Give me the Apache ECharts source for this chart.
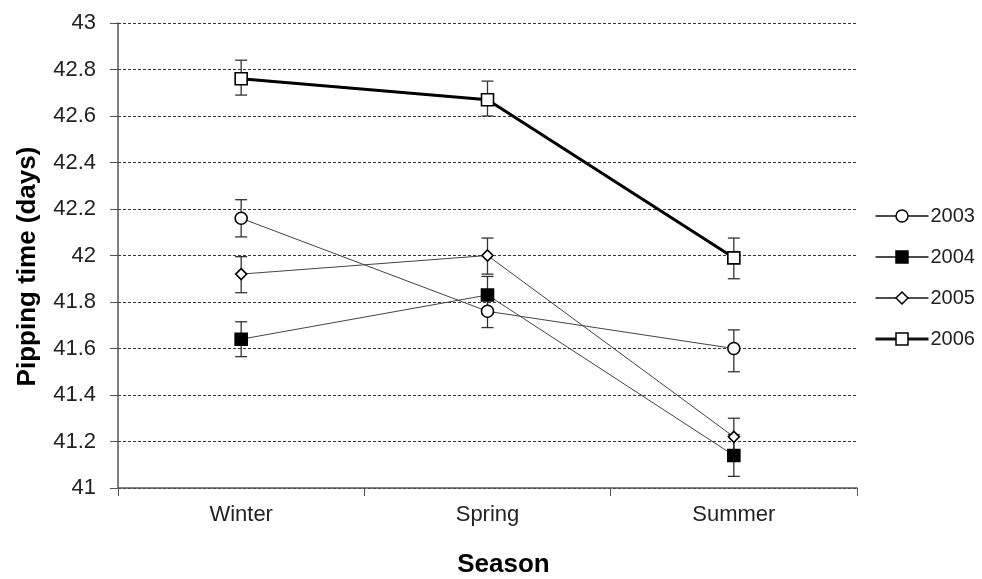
<!DOCTYPE html>
<html><head><meta charset="utf-8">
<script src="https://cdn.jsdelivr.net/npm/echarts@6/dist/echarts.min.js"></script>
<style>html,body{margin:0;padding:0;background:#fff}#c{width:982px;height:579px}</style>
</head><body><div id="c"></div>
<script>
const seasons = ['Winter', 'Spring', 'Summer'];
const years = ['2003', '2004', '2005', '2006'];
const mean2003 = [42.16, 41.76, 41.60];
const low2003 = [42.08, 41.69, 41.50];
const high2003 = [42.24, 41.84, 41.68];
const mean2004 = [41.64, 41.83, 41.14];
const low2004 = [41.565, 41.75, 41.05];
const high2004 = [41.715, 41.91, 41.23];
const mean2005 = [41.92, 42.00, 41.22];
const low2005 = [41.84, 41.92, 41.14];
const high2005 = [41.995, 42.075, 41.30];
const mean2006 = [42.76, 42.67, 41.99];
const low2006 = [42.69, 42.60, 41.90];
const high2006 = [42.84, 42.75, 42.075];
const yTicks = [41, 41.2, 41.4, 41.6, 41.8, 42, 42.2, 42.4, 42.6, 42.8, 43];

const means = [mean2003, mean2004, mean2005, mean2006];
const lows = [low2003, low2004, low2005, low2006];
const highs = [high2003, high2004, high2005, high2006];
const styles = [
  {symbol: 'circle', size: 12, fill: '#fff', width: 1, lineColor: '#444'},
  {symbol: 'rect', size: 12, fill: '#000', width: 1, lineColor: '#444'},
  {symbol: 'diamond', size: 11, fill: '#fff', width: 1, lineColor: '#444'},
  {symbol: 'rect', size: 12, fill: '#fff', width: 3, lineColor: '#000'}
];
const FONT = 'Liberation Sans, Arial';

const chart = echarts.init(document.getElementById('c'));
const series = [];
years.forEach((y, i) => {
  const errData = seasons.map((s, j) => [j, lows[i][j], highs[i][j]]);
  series.push({
    type: 'custom',
    name: y + '_err',
    z: 1,
    silent: true,
    data: errData,
    renderItem: function (params, api) {
      const x = api.value(0);
      const lo = api.coord([x, api.value(1)]);
      const hi = api.coord([x, api.value(2)]);
      const w = 6;
      const st = {stroke: '#333', lineWidth: 1.3};
      return {
        type: 'group',
        children: [
          {type: 'line', shape: {x1: lo[0], y1: lo[1], x2: hi[0], y2: hi[1]}, style: st},
          {type: 'line', shape: {x1: lo[0] - w, y1: lo[1], x2: lo[0] + w, y2: lo[1]}, style: st},
          {type: 'line', shape: {x1: hi[0] - w, y1: hi[1], x2: hi[0] + w, y2: hi[1]}, style: st}
        ]
      };
    }
  });
});
years.forEach((y, i) => {
  const s = styles[i];
  series.push({
    type: 'line',
    name: y,
    z: 3,
    data: means[i],
    symbol: s.symbol,
    symbolSize: s.size,
    showAllSymbol: true,
    lineStyle: {color: s.lineColor, width: s.width},
    itemStyle: {color: s.fill, borderColor: '#000', borderWidth: 1.6},
    emphasis: {disabled: true}
  });
});

chart.setOption({
  animation: false,
  backgroundColor: '#fff',
  grid: {left: 118, right: 125, top: 23, bottom: 91, containLabel: false, outerBoundsMode: 'none'},
  legend: {
    data: years.map((y, i) => ({
      name: y,
      lineStyle: {width: styles[i].width > 1 ? 3 : 1.3, color: '#111'},
      itemStyle: {borderWidth: 1.5, borderColor: '#000'}
    })),
    orient: 'vertical',
    left: 874,
    top: 206,
    padding: 0,
    itemWidth: 53,
    itemHeight: 15,
    itemGap: 21,
    textStyle: {fontFamily: FONT, fontSize: 20, color: '#222', padding: [0, 0, 0, -3]},
    inactiveColor: '#ccc'
  },
  xAxis: {
    type: 'category',
    data: seasons,
    boundaryGap: true,
    name: 'Season',
    nameLocation: 'middle',
    nameGap: 64,
    nameTextStyle: {fontFamily: FONT, fontSize: 26, fontWeight: 'bold', color: '#000', padding: [0, 0, 0, 32]},
    axisLine: {lineStyle: {color: '#555', width: 1.5}},
    axisTick: {show: true, length: 8, lineStyle: {color: '#555'}},
    axisLabel: {fontFamily: FONT, fontSize: 22, color: '#222', margin: 16},
    splitLine: {show: false}
  },
  yAxis: {
    type: 'value',
    min: 41,
    max: 43,
    interval: 0.2,
    name: 'Pipping time (days)',
    nameLocation: 'middle',
    nameGap: 77,
    nameTextStyle: {fontFamily: FONT, fontSize: 26, fontWeight: 'bold', color: '#000', padding: [0, 22, 0, 0]},
    axisLine: {show: true, lineStyle: {color: '#555', width: 1.5}},
    axisTick: {show: true, length: 8, lineStyle: {color: '#555'}},
    axisLabel: {
      fontFamily: FONT, fontSize: 22, color: '#222', margin: 22,
      formatter: function (v) {
        const t = yTicks.find(k => Math.abs(k - v) < 1e-6);
        return t === undefined ? '' : String(t);
      }
    },
    splitLine: {show: true, lineStyle: {color: '#333', type: [3, 2], width: 1}}
  },
  series: series
});
</script>
</body></html>
